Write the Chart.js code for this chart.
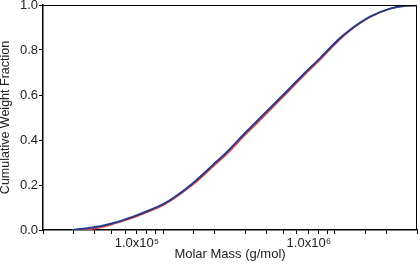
<!DOCTYPE html>
<html>
<head>
<meta charset="utf-8">
<script src="https://cdn.jsdelivr.net/npm/chart.js@4/dist/chart.umd.min.js"></script>
<style>
  html, body { margin: 0; padding: 0; background: #fff; }
  #wrap { width: 420px; height: 264px; }
</style>
</head>
<body>
<div id="wrap"><canvas id="massChart" width="420" height="264"></canvas></div>
<script>
// molar mass (g/mol) and cumulative weight fraction
var massBlue = [2.95e4, 3.3e4, 3.77e4, 4.5e4, 5.85e4, 7e4, 8.4e4, 1.0e5, 1.14e5, 1.49e5, 1.95e5, 2.36e5,
  3.0e5, 3.69e5, 4.99e5, 6.5e5, 8.2e5, 1.04e6, 1.22e6, 1.6e6, 2.09e6, 2.6e6, 3.0e6];
var fracBlue = [0.0, 0.004, 0.01, 0.02, 0.044, 0.065, 0.089, 0.115, 0.141, 0.208, 0.289, 0.348,
  0.431, 0.5, 0.6, 0.689, 0.764, 0.844, 0.889, 0.948, 0.984, 0.997, 0.998];

var massRed = [3.2e4, 3.77e4, 4.5e4, 5.85e4, 7e4, 8.4e4, 1.0e5, 1.14e5, 1.49e5, 1.95e5, 2.36e5,
  3.0e5, 3.69e5, 4.99e5, 6.5e5, 8.2e5, 1.04e6, 1.22e6, 1.6e6, 2.09e6, 2.6e6, 3.0e6];
var fracRed = [0.0, 0.003, 0.014, 0.04, 0.06, 0.084, 0.11, 0.136, 0.201, 0.281, 0.339,
  0.422, 0.49, 0.591, 0.681, 0.757, 0.838, 0.885, 0.946, 0.983, 0.997, 0.998];

var yTicks = [0, 0.2, 0.4, 0.6, 0.8, 1.0];
var xLabels = { 100000: "1.0x10\u2075", 1000000: "1.0x10\u2076" };

function toPoints(xs, ys) {
  var pts = [];
  for (var i = 0; i < xs.length; i++) pts.push({ x: xs[i], y: ys[i] });
  return pts;
}

// thin box on top and right of the plot
var frame = {
  id: "frame",
  afterDraw: function(chart) {
    var a = chart.chartArea, ctx = chart.ctx;
    ctx.save();
    ctx.strokeStyle = "#000";
    ctx.lineWidth = 1;
    ctx.beginPath();
    ctx.moveTo(a.left, a.top + 0.5);
    ctx.lineTo(a.right - 0.5, a.top + 0.5);
    ctx.lineTo(a.right - 0.5, a.bottom);
    ctx.stroke();
    ctx.restore();
  }
};

Chart.defaults.font.family = "'Liberation Sans', Arial, sans-serif";
Chart.defaults.font.size = 13;
Chart.defaults.color = "#222";

new Chart(document.getElementById("massChart"), {
  type: "line",
  data: {
    datasets: [{
      data: toPoints(massBlue, fracBlue),
      borderColor: "#223c8a",
      borderWidth: 2,
      pointRadius: 0,
      cubicInterpolationMode: "monotone"
    }, {
      data: toPoints(massRed, fracRed),
      borderColor: "#e8474a",
      borderWidth: 1.5,
      pointRadius: 0,
      cubicInterpolationMode: "monotone"
    }]
  },
  options: {
    responsive: false,
    animation: false,
    layout: { padding: { top: 5, right: 3, left: 0, bottom: 0 } },
    plugins: { legend: { display: false }, tooltip: { enabled: false } },
    scales: {
      x: {
        type: "logarithmic",
        min: 2e4,
        max: 3e6,
        grid: { drawOnChartArea: false, tickLength: 4, color: "#000" },
        border: { color: "#000", width: 1.5 },
        ticks: {
          autoSkip: false,
          maxRotation: 0,
          align: "end",
          labelOffset: -4,
          padding: 2,
          callback: function(v) { return xLabels[Math.round(v)] || ""; }
        },
        title: { display: true, text: "Molar Mass (g/mol)", padding: { top: 0, bottom: 2 } },
        afterFit: function(s) { s.height = 34; s.paddingLeft = 0; s.paddingRight = 0; }
      },
      y: {
        min: 0,
        max: 1,
        afterBuildTicks: function(s) { s.ticks = yTicks.map(function(v) { return { value: v }; }); },
        grid: { drawOnChartArea: false, tickLength: 4, color: "#000" },
        border: { color: "#000", width: 1.5 },
        ticks: {
          padding: 1,
          callback: function(v) { return v.toFixed(1); }
        },
        title: { display: true, text: "Cumulative Weight Fraction", font: { size: 12.5, lineHeight: 1 }, padding: { top: -1, bottom: 0 } },
        afterFit: function(s) { s.width = 43; s.paddingTop = 0; s.paddingBottom = 0; }
      }
    }
  },
  plugins: [frame]
});
</script>
</body>
</html>
